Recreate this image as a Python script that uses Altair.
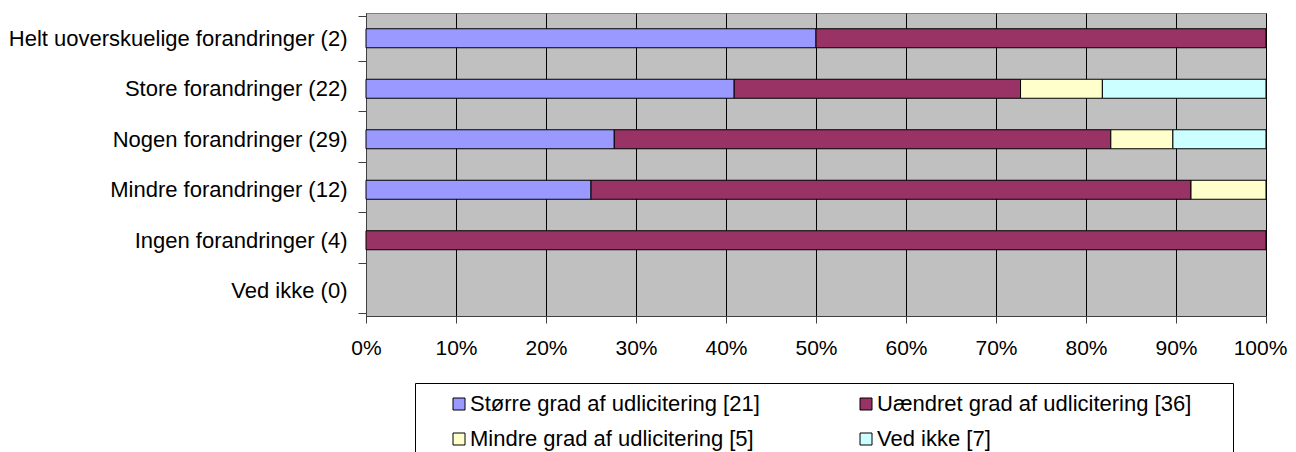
import altair as alt
import pandas as pd

categories = [
    "Helt uoverskuelige forandringer (2)",
    "Store forandringer (22)",
    "Nogen forandringer (29)",
    "Mindre forandringer (12)",
    "Ingen forandringer (4)",
    "Ved ikke (0)",
]
series = [
    "Større grad af udlicitering [21]",
    "Uændret grad af udlicitering [36]",
    "Mindre grad af udlicitering [5]",
    "Ved ikke [7]",
]
colors = ["#9999FF", "#993366", "#FFFFCC", "#CCFFFF"]

# counts per category, one list per series
storre = [1, 9, 8, 3, 0, 0]
uaendret = [1, 7, 16, 8, 4, 0]
mindre = [0, 2, 2, 1, 0, 0]
ved_ikke = [0, 4, 3, 0, 0, 0]

rows = []
for si, vals in enumerate([storre, uaendret, mindre, ved_ikke]):
    for ci, v in enumerate(vals):
        if v > 0:
            rows.append({"category": categories[ci], "series": series[si], "order": si, "count": v})
df = pd.DataFrame(rows)

font = "Liberation Sans"

chart = alt.Chart(df).mark_bar(size=19, stroke="black", strokeWidth=1).encode(
    y=alt.Y("category:N", sort=categories, scale=alt.Scale(domain=categories),
            axis=alt.Axis(title=None, tickBand="extent", labelFontSize=22, labelColor="black",
                          labelFont=font, tickSize=8, tickColor="#404040", domainColor="#404040",
                          labelPadding=11, labelLimit=400, grid=False)),
    x=alt.X("count:Q", stack="normalize",
            axis=alt.Axis(title=None, format=".0%", values=[i / 10 for i in range(11)],
                          labelFontSize=21, labelColor="black", labelFont=font,
                          labelFlush=False, labelOverlap=False,
                          labelOffset={"condition": {"test": "datum.value >= 1", "value": -6}, "value": 0},
                          tickSize=7, tickColor="#404040", domainColor="#404040",
                          labelPadding=14, grid=True, gridColor="black", gridOpacity=1,
                          gridWidth=1)),
    color=alt.Color("series:N", scale=alt.Scale(domain=series, range=colors),
                    legend=alt.Legend(title="\u00a0", titleOrient="right", titlePadding=32,
                                      titleFontSize=4,
                                      orient="none", legendX=49, legendY=370,
                                      columns=2, columnPadding=72, rowPadding=13,
                                      symbolType="square", symbolSize=144, symbolOffset=23,
                                      symbolStrokeColor="black", symbolStrokeWidth=1,
                                      symbolOpacity=1, labelOffset=0,
                                      labelFontSize=22, labelFont=font, labelColor="black",
                                      labelLimit=400, strokeColor="black", fillColor="white",
                                      padding=10, direction="horizontal")),
    order=alt.Order("order:Q"),
).properties(
    width=900, height=303,
    background="white",
    autosize=alt.AutoSizeParams(type="none"),
    padding={"left": 358, "top": 5, "right": 22, "bottom": 136},
).configure_view(
    fill="#C0C0C0", stroke="#808080", strokeWidth=1
)

chart.save("out.html", embed_options={"renderer": "svg", "actions": False})
